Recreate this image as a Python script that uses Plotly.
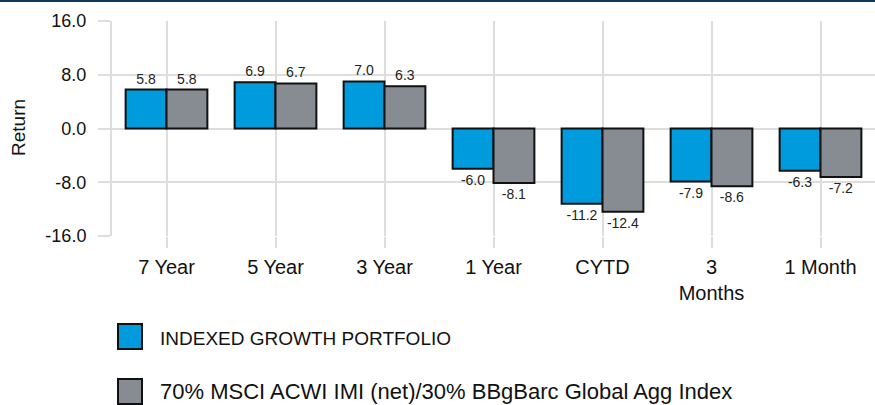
import plotly.graph_objects as go

categories = ["7 Year", "5 Year", "3 Year", "1 Year", "CYTD", "3<br>Months", "1 Month"]
portfolio = [5.8, 6.9, 7.0, -6.0, -11.2, -7.9, -6.3]
benchmark = [5.8, 6.7, 6.3, -8.1, -12.4, -8.6, -7.2]
series_names = ["INDEXED GROWTH PORTFOLIO", "70% MSCI ACWI IMI (net)/30% BBgBarc Global Agg Index"]
series_colors = ["#009BDC", "#878B92"]
y_ticks = [16, 8, 0, -8, -16]

FONT = "Liberation Sans, Arial, sans-serif"
W, H = 875, 405
ML, MR, MT, MB = 112, 0, 21, 169
plot_w = W - ML - MR
plot_h = H - MT - MB

def px_x(px):
    return (px - ML) / plot_w

def px_y(py):
    return (H - MB - py) / plot_h

fig = go.Figure()
for name, vals, col in zip(series_names, [portfolio, benchmark], series_colors):
    fig.add_trace(go.Bar(
        x=categories, y=vals, name=name,
        marker=dict(color=col, line=dict(color="#111111", width=2)),
        text=[f"{v:.1f}" for v in vals], textposition="outside",
        textfont=dict(family=FONT, size=14, color="#222222"),
        cliponaxis=False, showlegend=False,
    ))

fig.update_layout(
    width=W, height=H,
    barmode="group", bargap=0.25, bargroupgap=0,
    plot_bgcolor="white", paper_bgcolor="white",
    margin=dict(l=ML, r=MR, t=MT, b=MB, autoexpand=False),
    font=dict(family=FONT, size=17, color="#111111"),
    xaxis=dict(
        showgrid=True, gridcolor="#DDDDDD", gridwidth=2,
        ticks="outside", ticklen=11, tickcolor="#DDDDDD", tickwidth=2,
        showline=False, range=[-0.5, 6.5], automargin=False,
        tickfont=dict(size=20), ticklabelstandoff=2,
    ),
    yaxis=dict(
        range=[-16, 16], tickvals=y_ticks, ticktext=[f"{v:.1f}" for v in y_ticks],
        showgrid=True, gridcolor="#DDDDDD", gridwidth=2, zeroline=False,
        ticks="outside", ticklen=12, tickcolor="#DDDDDD", tickwidth=2,
        showline=True, linecolor="#DDDDDD", linewidth=2, automargin=False,
        tickfont=dict(size=18), ticklabelstandoff=8,
    ),
)

# y-axis title
fig.add_annotation(xref="paper", yref="paper", x=px_x(19), y=px_y(128),
                   text="Return", textangle=-90, showarrow=False,
                   xanchor="center", yanchor="middle",
                   font=dict(family=FONT, size=19, color="#111111"))

# top dark rule
fig.add_shape(type="rect", xref="paper", yref="paper", x0=px_x(0), x1=px_x(W),
              y0=px_y(2), y1=px_y(0), fillcolor="#0B3A5E", line=dict(width=0))

# custom legend
legend_rows = [(324, 349, 338, 19), (379, 404, 391, 22)]
for name, col, (ys0, ys1, yc, fs) in zip(series_names, series_colors, legend_rows):
    fig.add_shape(type="rect", xref="paper", yref="paper",
                  x0=px_x(118), x1=px_x(142),
                  y0=px_y(ys1), y1=px_y(ys0),
                  fillcolor=col, line=dict(color="#111111", width=2))
    fig.add_annotation(xref="paper", yref="paper", x=px_x(158), y=px_y(yc),
                       text=name, showarrow=False, xanchor="left", yanchor="middle",
                       font=dict(family=FONT, size=fs, color="#111111"))

fig.write_html("out.html", config={"displayModeBar": False},
               post_script="document.body.style.margin='0';document.body.style.overflow='hidden';")
